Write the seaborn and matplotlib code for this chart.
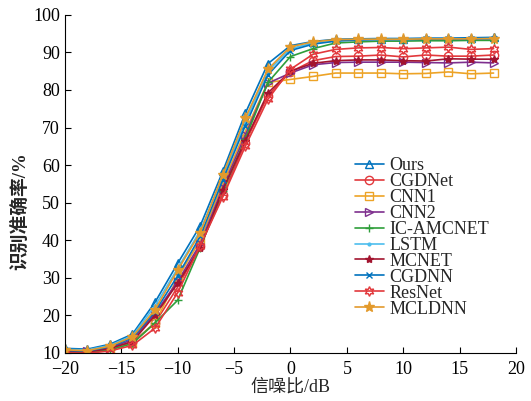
import numpy as np
import pandas as pd
import matplotlib
matplotlib.use("Agg")
import matplotlib.pyplot as plt
import seaborn as sns

snr = list(range(-20, 20, 2))

ours      = [11.2, 11.0, 12.3, 15.0, 23.5, 33.8, 43.8, 58.3, 73.8, 87.0, 91.8, 92.9, 93.5, 93.6, 93.7, 93.7, 93.8, 93.8, 93.9, 94.0]
cgdnet    = [10.2, 10.1, 10.9, 12.8, 18.0, 27.5, 38.5, 52.0, 66.0, 78.5, 84.8, 87.8, 88.9, 89.0, 89.3, 88.8, 89.3, 89.0, 89.0, 89.3]
cnn1      = [10.1, 10.0, 11.0, 12.5, 18.0, 30.0, 40.0, 55.0, 69.0, 82.0, 82.8, 83.6, 84.5, 84.5, 84.5, 84.3, 84.4, 84.8, 84.3, 84.5]
cnn2      = [10.5, 10.4, 11.4, 13.5, 20.5, 29.0, 39.0, 54.0, 68.0, 81.8, 84.5, 86.7, 87.3, 87.4, 87.4, 87.4, 87.3, 87.2, 87.4, 87.2]
ic_amcnet = [10.0, 10.0, 10.8, 12.5, 18.0, 24.0, 38.0, 53.0, 67.0, 82.0, 88.9, 91.0, 92.5, 92.8, 93.0, 93.0, 93.1, 93.1, 93.2, 93.2]
lstm      = [10.9, 10.8, 12.0, 14.6, 22.5, 32.5, 42.5, 56.8, 71.5, 85.0, 91.0, 92.5, 93.2, 93.4, 93.5, 93.5, 93.6, 93.6, 93.6, 93.7]
mcnet     = [10.3, 10.2, 11.2, 13.0, 20.0, 28.5, 38.0, 53.4, 66.5, 79.2, 85.0, 87.1, 87.8, 88.0, 88.0, 87.8, 87.7, 88.3, 88.2, 88.2]
cgdnn     = [10.6, 10.5, 11.6, 14.0, 21.0, 30.5, 41.0, 56.0, 70.5, 84.0, 90.5, 92.2, 93.0, 93.3, 93.4, 93.4, 93.5, 93.5, 93.5, 93.6]
resnet    = [10.0, 9.9, 10.5, 12.0, 16.6, 26.0, 38.5, 51.5, 65.0, 77.5, 85.5, 89.5, 90.8, 91.2, 91.3, 91.0, 91.2, 91.4, 90.8, 91.0]
mcldnn    = [10.8, 10.6, 11.8, 14.3, 21.5, 32.0, 42.0, 57.4, 72.5, 85.5, 91.5, 92.8, 93.4, 93.5, 93.5, 93.5, 93.6, 93.6, 93.6, 93.7]

models = ["Ours", "CGDNet", "CNN1", "CNN2", "IC-AMCNET", "LSTM", "MCNET", "CGDNN", "ResNet", "MCLDNN"]
series = [ours, cgdnet, cnn1, cnn2, ic_amcnet, lstm, mcnet, cgdnn, resnet, mcldnn]

x_ticks = list(range(-20, 21, 5))
y_ticks = list(range(10, 101, 10))

# line colour, marker, whether the marker is hollow, marker size
styles = {
    "Ours":      ("#0072BD", "^", True, 6),
    "CGDNet":    ("#E2383C", "o", True, 6),
    "CNN1":      ("#EDA326", "s", True, 5.5),
    "CNN2":      ("#7E2F8E", ">", True, 6),
    "IC-AMCNET": ("#2E9E3A", "+", False, 6),
    "LSTM":      ("#4DBEEE", ".", False, 4),
    "MCNET":     ("#A2142F", "*", False, 6),
    "CGDNN":     ("#0072BD", "x", False, 4.5),
    "ResNet":    ("#E2383C", (6, 1, 0), True, 7),
    "MCLDNN":    ("#E39A2C", "*", False, 8),
}

df = pd.DataFrame(
    [(m, s, v) for m, vals in zip(models, series) for s, v in zip(snr, vals)],
    columns=["model", "snr", "acc"],
)

sns.set_theme(style="white")
plt.rcParams["font.family"] = ["Liberation Serif", "Noto Sans CJK SC"]
plt.rcParams["axes.unicode_minus"] = True

fig = plt.figure(figsize=(5.31, 4.01), dpi=100)
ax = fig.add_axes([0.122, 0.12, 0.85, 0.843])

for m in models:
    color, marker, hollow, ms = styles[m]
    sub = df[df["model"] == m]
    kw = dict(markerfacecolor="none") if hollow else dict(markerfacecolor=color)
    sns.lineplot(data=sub, x="snr", y="acc", ax=ax, color=color, marker=marker,
                 markersize=ms, markeredgecolor=color, markeredgewidth=1.0,
                 linewidth=1.2, label=m, **kw)

ax.set_xlim(-20, 20)
ax.set_ylim(10, 100)
ax.set_xticks(x_ticks)
ax.set_yticks(y_ticks)
ax.tick_params(direction="in", length=4, width=0.8, labelsize=13, colors="black",
               bottom=True, left=True)
ax.tick_params(axis="x", pad=6)
for side in ["top", "right"]:
    ax.spines[side].set_visible(False)
for side in ["left", "bottom"]:
    ax.spines[side].set_color("black")
    ax.spines[side].set_linewidth(0.8)

ax.set_xlabel("信噪比/dB", fontsize=13, labelpad=0)
ax.set_ylabel("识别准确率/%", fontsize=13.5, fontweight="bold")
ax.yaxis.set_label_coords(-0.078, 0.42)

ax.legend(loc="upper left", bbox_to_anchor=(0.627, 0.60), frameon=False,
          fontsize=13, labelspacing=-0.06, handlelength=1.6, handletextpad=0.3,
          borderaxespad=0)

fig.savefig("out.png", dpi=100)
